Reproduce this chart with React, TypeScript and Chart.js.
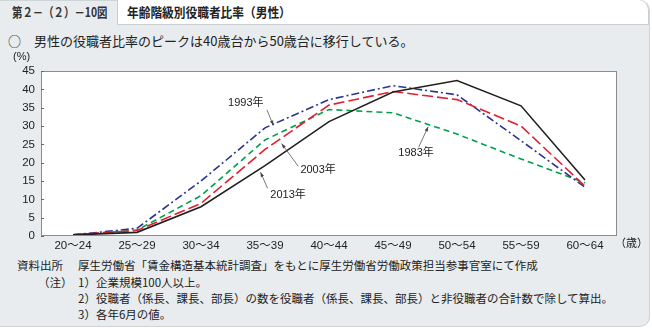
import React, { useEffect, useRef } from "react";
import { Chart, registerables } from "chart.js";

Chart.register(...registerables);

const categories = ["20～24", "25～29", "30～34", "35～39", "40～44", "45～49", "50～54", "55～59", "60～64"];
const series1983 = [0.3, 1.6, 11.0, 26.2, 34.5, 33.6, 27.8, 21.0, 14.5];
const series1993 = [0.3, 2.1, 15.0, 29.5, 37.2, 41.0, 38.5, 26.0, 13.3];
const series2003 = [0.3, 1.5, 8.9, 23.6, 35.7, 39.4, 37.2, 30.0, 13.6];
const series2013 = [0.3, 1.0, 8.0, 19.2, 31.2, 39.3, 42.4, 35.5, 15.3];
const yTicks = [0, 5, 10, 15, 20, 25, 30, 35, 40, 45];

// annotation labels anchored in data space: [text, labelIdx, labelVal, fromIdx, fromVal, toIdx, toVal]
const annotations: [string, number, number, number, number, number, number][] = [
  ["1993年", 2.7, 36.3, 3.03, 34.4, 3.13, 30.2],
  ["2003年", 3.83, 18.0, 3.52, 19.0, 3.26, 25.2],
  ["2013年", 3.36, 11.2, 3.04, 13.0, 2.93, 17.4],
  ["1983年", 5.36, 22.6, 5.4, 24.2, 5.55, 29.8],
];

const FONT = '"Liberation Sans", "Noto Sans CJK JP", sans-serif';

const decorPlugin = {
  id: "decor",
  beforeDraw(chart: any) {
    const { ctx, chartArea } = chart;
    ctx.save();
    ctx.fillStyle = "#ffffff";
    ctx.fillRect(chartArea.left, chartArea.top, chartArea.right - chartArea.left, chartArea.bottom - chartArea.top);
    ctx.restore();
  },
  afterDraw(chart: any) {
    const { ctx, chartArea, scales } = chart;
    const x = scales.x;
    const y = scales.y;
    ctx.save();
    ctx.strokeStyle = "#8c8c8c";
    ctx.lineWidth = 1;
    ctx.strokeRect(chartArea.left + 0.5, chartArea.top + 0.5, chartArea.right - chartArea.left - 1, chartArea.bottom - chartArea.top - 1);
    ctx.strokeStyle = "#666";
    for (const t of yTicks) {
      const py = Math.round(y.getPixelForValue(t)) + 0.5;
      ctx.beginPath();
      ctx.moveTo(chartArea.left, py);
      ctx.lineTo(chartArea.left + 3, py);
      ctx.stroke();
    }
    ctx.fillStyle = "#222";
    ctx.font = "11px " + FONT;
    ctx.textBaseline = "middle";
    ctx.textAlign = "left";
    ctx.fillText("(%)", 13, chartArea.top - 14);
    const lastX = x.getPixelForValue(categories.length - 1);
    ctx.fillText("（歳）", lastX + 30, chartArea.bottom + 8);
    for (const [text, li, lv, fi, fv, ti, tv] of annotations) {
      const lx = x.getPixelForValue(li);
      const ly = y.getPixelForValue(lv);
      ctx.fillStyle = "#222";
      ctx.textAlign = "center";
      ctx.fillText(text, lx, ly);
      const fx = x.getPixelForValue(fi);
      const fy = y.getPixelForValue(fv);
      const tx = x.getPixelForValue(ti);
      const ty = y.getPixelForValue(tv);
      ctx.strokeStyle = "#555";
      ctx.lineWidth = 0.8;
      ctx.beginPath();
      ctx.moveTo(fx, fy);
      ctx.lineTo(tx, ty);
      ctx.stroke();
      const ang = Math.atan2(ty - fy, tx - fx);
      ctx.fillStyle = "#444";
      ctx.beginPath();
      ctx.moveTo(tx, ty);
      ctx.lineTo(tx - 5 * Math.cos(ang - 0.35), ty - 5 * Math.sin(ang - 0.35));
      ctx.lineTo(tx - 5 * Math.cos(ang + 0.35), ty - 5 * Math.sin(ang + 0.35));
      ctx.closePath();
      ctx.fill();
    }
    ctx.restore();
  },
};

function ChartView() {
  const ref = useRef<HTMLCanvasElement | null>(null);
  useEffect(() => {
    document.body.style.margin = "0";
    const canvas = ref.current!;
    const mk = (label: string, data: number[], color: string, dash: number[], order: number) => ({
      label,
      data,
      borderColor: color,
      backgroundColor: color,
      borderWidth: 1.6,
      borderDash: dash,
      pointRadius: 0,
      tension: 0,
      fill: false,
      order,
    });
    const chart = new Chart(canvas, {
      type: "line",
      data: {
        labels: categories,
        datasets: [
          mk("1983年", series1983, "#00a04a", [6, 4], 4),
          mk("1993年", series1993, "#2b3590", [8, 3, 2, 3], 3),
          mk("2003年", series2003, "#e0202f", [11, 4], 2),
          mk("2013年", series2013, "#231f20", [], 1),
        ],
      },
      options: {
        responsive: false,
        animation: false,
        devicePixelRatio: 1,
        layout: { padding: { left: 0, top: 21, right: 35, bottom: 0 } },
        plugins: { legend: { display: false }, tooltip: { enabled: false } },
        scales: {
          x: {
            offset: true,
            grid: { display: false, drawTicks: false },
            border: { display: false },
            ticks: { color: "#222", font: { size: 11.5, family: FONT }, padding: 3, maxRotation: 0, autoSkip: false },
            afterFit: (s: any) => { s.height = 19; },
          },
          y: {
            min: 0,
            max: 45,
            grid: { display: false, drawTicks: false },
            border: { display: false },
            ticks: { stepSize: 5, color: "#222", font: { size: 11.5, family: FONT }, padding: 6 },
            afterFit: (s: any) => { s.width = 41; },
          },
        },
      },
      plugins: [decorPlugin],
    });
    return () => chart.destroy();
  }, []);
  return <canvas ref={ref} width={652} height={205} style={{ position: "absolute", left: 0, top: 50, width: 652, height: 205 }} />;
}

export default function App() {
  const jp = '"Noto Sans CJK JP", sans-serif';
  const note: React.CSSProperties = { position: "absolute", fontSize: 11.5, fontFamily: jp, color: "#222", whiteSpace: "nowrap", lineHeight: "14px" };
  return (
    <div style={{ position: "relative", width: 652, height: 332, overflow: "hidden", background: "#ffffff" }}>
      <div style={{ position: "absolute", left: 0, top: 0, width: 649, height: 325, background: "#e8ecee", border: "1px solid #cfd4d7", borderLeft: "none", borderRadius: "0 10px 10px 0" }} />
      <div style={{ position: "absolute", left: 117, top: 0, width: 532, height: 25, background: "#ffffff", border: "1px solid #c9ced1", borderTop: "none", borderRadius: "0 10px 0 0", boxSizing: "border-box" }} />
      <div style={{ position: "absolute", left: 12, top: 3, fontFamily: jp, fontSize: 13, fontWeight: 700, color: "#333", whiteSpace: "nowrap", lineHeight: "18px", transform: "scaleX(0.8)", transformOrigin: "left center" }}>第２－（２）－10図</div>
      <div style={{ position: "absolute", left: 127, top: 3, fontFamily: jp, fontSize: 13, fontWeight: 700, color: "#222", whiteSpace: "nowrap", lineHeight: "18px", transform: "scaleX(0.9)", transformOrigin: "left center" }}>年齢階級別役職者比率（男性）</div>
      <div style={{ position: "absolute", left: 8, top: 32, fontFamily: jp, fontSize: 13, color: "#222", whiteSpace: "nowrap", lineHeight: "18px" }}>○　男性の役職者比率のピークは40歳台から50歳台に移行している。</div>
      <ChartView />
      <div style={{ ...note, left: 17, top: 258 }}>資料出所</div>
      <div style={{ ...note, left: 78, top: 258 }}>厚生労働省「賃金構造基本統計調査」をもとに厚生労働省労働政策担当参事官室にて作成</div>
      <div style={{ ...note, left: 38, top: 275 }}>（注）</div>
      <div style={{ ...note, left: 78, top: 275 }}>1）企業規模100人以上。</div>
      <div style={{ ...note, left: 78, top: 291 }}>2）役職者（係長、課長、部長）の数を役職者（係長、課長、部長）と非役職者の合計数で除して算出。</div>
      <div style={{ ...note, left: 78, top: 307 }}>3）各年6月の値。</div>
    </div>
  );
}
